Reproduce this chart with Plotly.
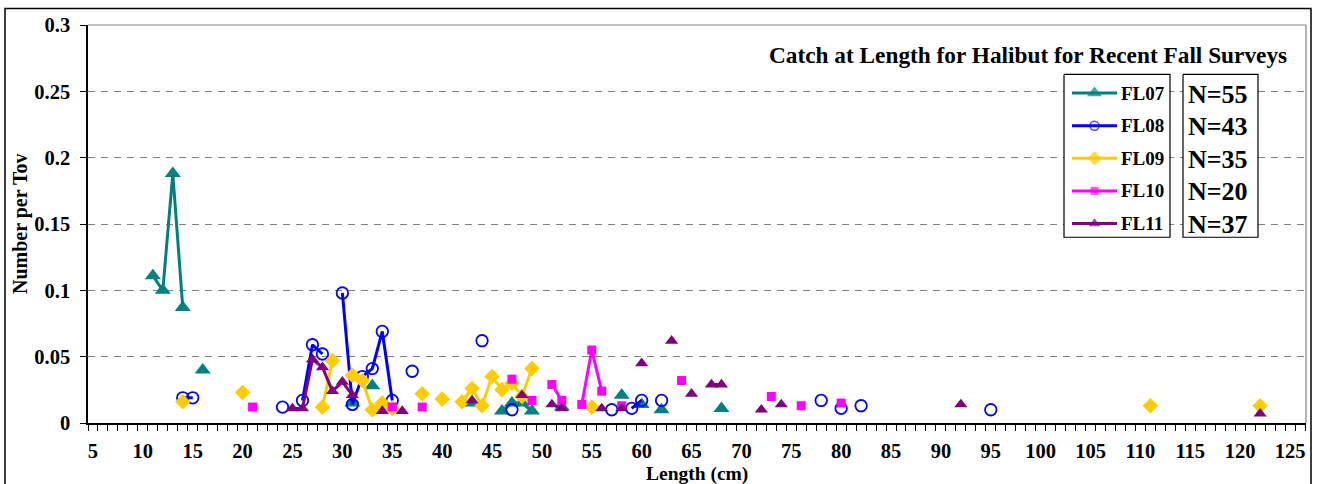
import plotly.graph_objects as go

# ---------------- data ----------------
FL07_len = [11, 12, 13, 14, 16, 31, 33, 43, 46, 47, 48, 49, 52, 58, 60, 62, 68]
FL07_val = [0.111, 0.100, 0.188, 0.087, 0.040, 0.015, 0.028, 0.015, 0.009, 0.015,
            0.015, 0.009, 0.012, 0.021, 0.014, 0.010, 0.011]

FL08_len = [14, 15, 24, 26, 27, 28, 30, 31, 32, 33, 34, 35, 37, 44, 47, 57, 59, 60,
            62, 78, 80, 82, 95]
FL08_val = [0.019, 0.019, 0.012, 0.017, 0.059, 0.052, 0.098, 0.014, 0.035, 0.041,
            0.069, 0.017, 0.039, 0.062, 0.010, 0.010, 0.011, 0.017, 0.017, 0.017,
            0.011, 0.013, 0.010]

FL09_len = [14, 20, 28, 29, 31, 32, 33, 34, 35, 38, 40, 42, 43, 44, 45, 46, 47, 48,
            49, 55, 111, 122]
FL09_val = [0.016, 0.023, 0.012, 0.047, 0.036, 0.032, 0.010, 0.015, 0.011, 0.022,
            0.018, 0.016, 0.026, 0.013, 0.035, 0.025, 0.030, 0.020, 0.041, 0.012,
            0.013, 0.013]

FL10_len = [21, 35, 38, 47, 49, 51, 52, 54, 55, 56, 58, 64, 73, 76, 80]
FL10_val = [0.012, 0.012, 0.012, 0.033, 0.017, 0.029, 0.017, 0.014, 0.055, 0.024,
            0.013, 0.032, 0.020, 0.013, 0.015]

FL11_len = [25, 26, 27, 28, 29, 30, 31, 34, 36, 43, 48, 51, 52, 56, 58, 60, 63, 65,
            67, 68, 72, 74, 92, 122]
FL11_val = [0.011, 0.011, 0.048, 0.042, 0.024, 0.031, 0.021, 0.009, 0.009, 0.017,
            0.021, 0.014, 0.011, 0.011, 0.011, 0.045, 0.062, 0.022, 0.029, 0.029,
            0.010, 0.014, 0.014, 0.007]

series_names = ["FL07", "FL08", "FL09", "FL10", "FL11"]
series_n = ["N=55", "N=43", "N=35", "N=20", "N=37"]
x_tick_labels = list(range(5, 130, 5))

TITLE = "Catch at Length for Halibut for Recent Fall Surveys"
X_TITLE = "Length (cm)"
Y_TITLE = "Number per Tov"

# ---------------- styles ----------------
FONT = "Liberation Serif"
W, H = 1319, 484
L, R, T, B = 88, 13, 24.5, 61
PW, PH = W - L - R, H - T - B

styles = [
    dict(color="#008080", symbol="triangle-up", size=14, lw=3),
    dict(color="#0000FF", symbol="circle-open", size=11.5, lw=3),
    dict(color="#FFCC00", symbol="diamond", size=12, lw=3),
    dict(color="#FF00FF", symbol="square", size=9, lw=3),
    dict(color="#800080", symbol="triangle-up", size=11.5, lw=3),
]
legend_marker_sizes = [13, 9, 11, 8, 10.5]


def px2x(px):
    return (px - L) / PW


def px2y(py):
    return (H - B - py) / PH


def with_gaps(xs, ys):
    ox, oy = [], []
    for i, (a, b) in enumerate(zip(xs, ys)):
        if i > 0 and a - xs[i - 1] != 1:
            ox.append(None)
            oy.append(None)
        ox.append(a)
        oy.append(b)
    return ox, oy


fig = go.Figure()
all_series = [(FL07_len, FL07_val), (FL08_len, FL08_val), (FL09_len, FL09_val),
              (FL10_len, FL10_val), (FL11_len, FL11_val)]
for name, (xs, ys), st in zip(series_names, all_series, styles):
    gx, gy = with_gaps(xs, ys)
    fig.add_trace(go.Scatter(
        x=gx, y=gy, mode="lines+markers", name=name, connectgaps=False,
        line=dict(color=st["color"], width=st["lw"]),
        marker=dict(symbol=st["symbol"], size=st["size"], color=st["color"],
                    line=dict(color=st["color"], width=1.8 if "open" in st["symbol"] else 0)),
        showlegend=False, cliponaxis=False,
    ))

# ---------------- custom legend on overlay axes (pixel coordinates) ----------------
box1 = (1064, 1170, 74, 237)
box2 = (1183, 1258, 74, 237)
for (x0, x1, y0, y1) in (box1, box2):
    fig.add_trace(go.Scatter(
        x=[x0, x1, x1, x0, x0], y=[y0, y0, y1, y1, y0], mode="lines",
        fill="toself", fillcolor="white", line=dict(color="black", width=1.2),
        xaxis="x2", yaxis="y2", showlegend=False, hoverinfo="skip"))

row_y0, row_dy = 92.7, 32.65
for i, (name, st) in enumerate(zip(series_names, styles)):
    yy = row_y0 + row_dy * i
    fig.add_trace(go.Scatter(
        x=[1072, 1094.5, 1117], y=[yy, yy, yy], mode="lines+markers",
        line=dict(color=st["color"], width=3),
        marker=dict(symbol=st["symbol"], size=[0, legend_marker_sizes[i], 0],
                    color=st["color"],
                    line=dict(color=st["color"], width=1.5 if "open" in st["symbol"] else 0)),
        xaxis="x2", yaxis="y2", showlegend=False, hoverinfo="skip"))

annotations = []
for i, (name, ntxt) in enumerate(zip(series_names, series_n)):
    yy = row_y0 + row_dy * i
    annotations.append(dict(x=1119, y=yy, xref="x2", yref="y2", text=name,
                            showarrow=False, xanchor="left", yanchor="middle",
                            font=dict(family=FONT, size=19, color="black", weight="bold")))
    annotations.append(dict(x=1186, y=yy + 1, xref="x2", yref="y2", text=ntxt,
                            showarrow=False, xanchor="left", yanchor="middle",
                            font=dict(family=FONT, size=26, color="black", weight="bold")))

annotations.append(dict(x=px2x(1289), y=px2y(55), xref="paper", yref="paper", text=TITLE,
                        showarrow=False, xanchor="right", yanchor="middle",
                        font=dict(family=FONT, size=23.3, color="black", weight="bold")))
annotations.append(dict(x=0.5, y=px2y(474), xref="paper", yref="paper", text=X_TITLE,
                        showarrow=False, xanchor="center", yanchor="middle",
                        font=dict(family=FONT, size=19.5, color="black", weight="bold")))
annotations.append(dict(x=px2x(20), y=0.5, xref="paper", yref="paper", text=Y_TITLE,
                        showarrow=False, xanchor="center", yanchor="middle", textangle=-90,
                        font=dict(family=FONT, size=20, color="black", weight="bold")))

shapes = [
    # plot area top / right border (gray)
    dict(type="line", xref="paper", yref="paper", x0=0, x1=1, y0=1, y1=1,
         line=dict(color="#808080", width=1.2), layer="above"),
    dict(type="line", xref="paper", yref="paper", x0=1, x1=1, y0=0, y1=1,
         line=dict(color="#808080", width=1.2), layer="above"),
    # outer chart border
    dict(type="rect", xref="paper", yref="paper",
         x0=px2x(5), x1=px2x(1311), y0=px2y(492), y1=px2y(8),
         line=dict(color="black", width=1.5), layer="above"),
]

tickfont = dict(family=FONT, size=20.5, color="black", weight="bold")
fig.update_layout(
    width=W, height=H,
    margin=dict(l=L, r=R, t=T, b=B, autoexpand=False),
    paper_bgcolor="white", plot_bgcolor="white",
    showlegend=False,
    xaxis=dict(
        range=[4.5, 126.6], tickmode="array", tickvals=x_tick_labels,
        ticktext=[str(v) for v in x_tick_labels],
        ticks="outside", ticklen=6, tickcolor="rgba(0,0,0,0)",
        minor=dict(tickmode="linear", tick0=0.5, dtick=1, ticks="outside",
                   ticklen=6, tickcolor="black", tickwidth=1, showgrid=False),
        showgrid=False, zeroline=False, showline=True, linecolor="black", linewidth=1.5,
        tickfont=tickfont, ticklabelstandoff=3, fixedrange=True,
    ),
    yaxis=dict(
        range=[0, 0.3], tickmode="linear", tick0=0, dtick=0.05,
        ticks="outside", ticklen=6, tickcolor="black",
        showgrid=True, gridcolor="#808080", gridwidth=1, griddash="7px,6px",
        zeroline=False, showline=True, linecolor="black", linewidth=1.5,
        tickfont=tickfont, ticklabelstandoff=6, fixedrange=True,
    ),
    xaxis2=dict(overlaying="x", anchor="y2", range=[L, W - R], visible=False,
                fixedrange=True),
    yaxis2=dict(overlaying="y", anchor="x2", range=[H - B, T], visible=False,
                fixedrange=True),
    annotations=annotations,
    shapes=shapes,
)

fig.write_html(
    "out.html",
    config={"displayModeBar": False},
    post_script="document.body.style.margin='0';document.body.style.overflow='hidden';",
)
